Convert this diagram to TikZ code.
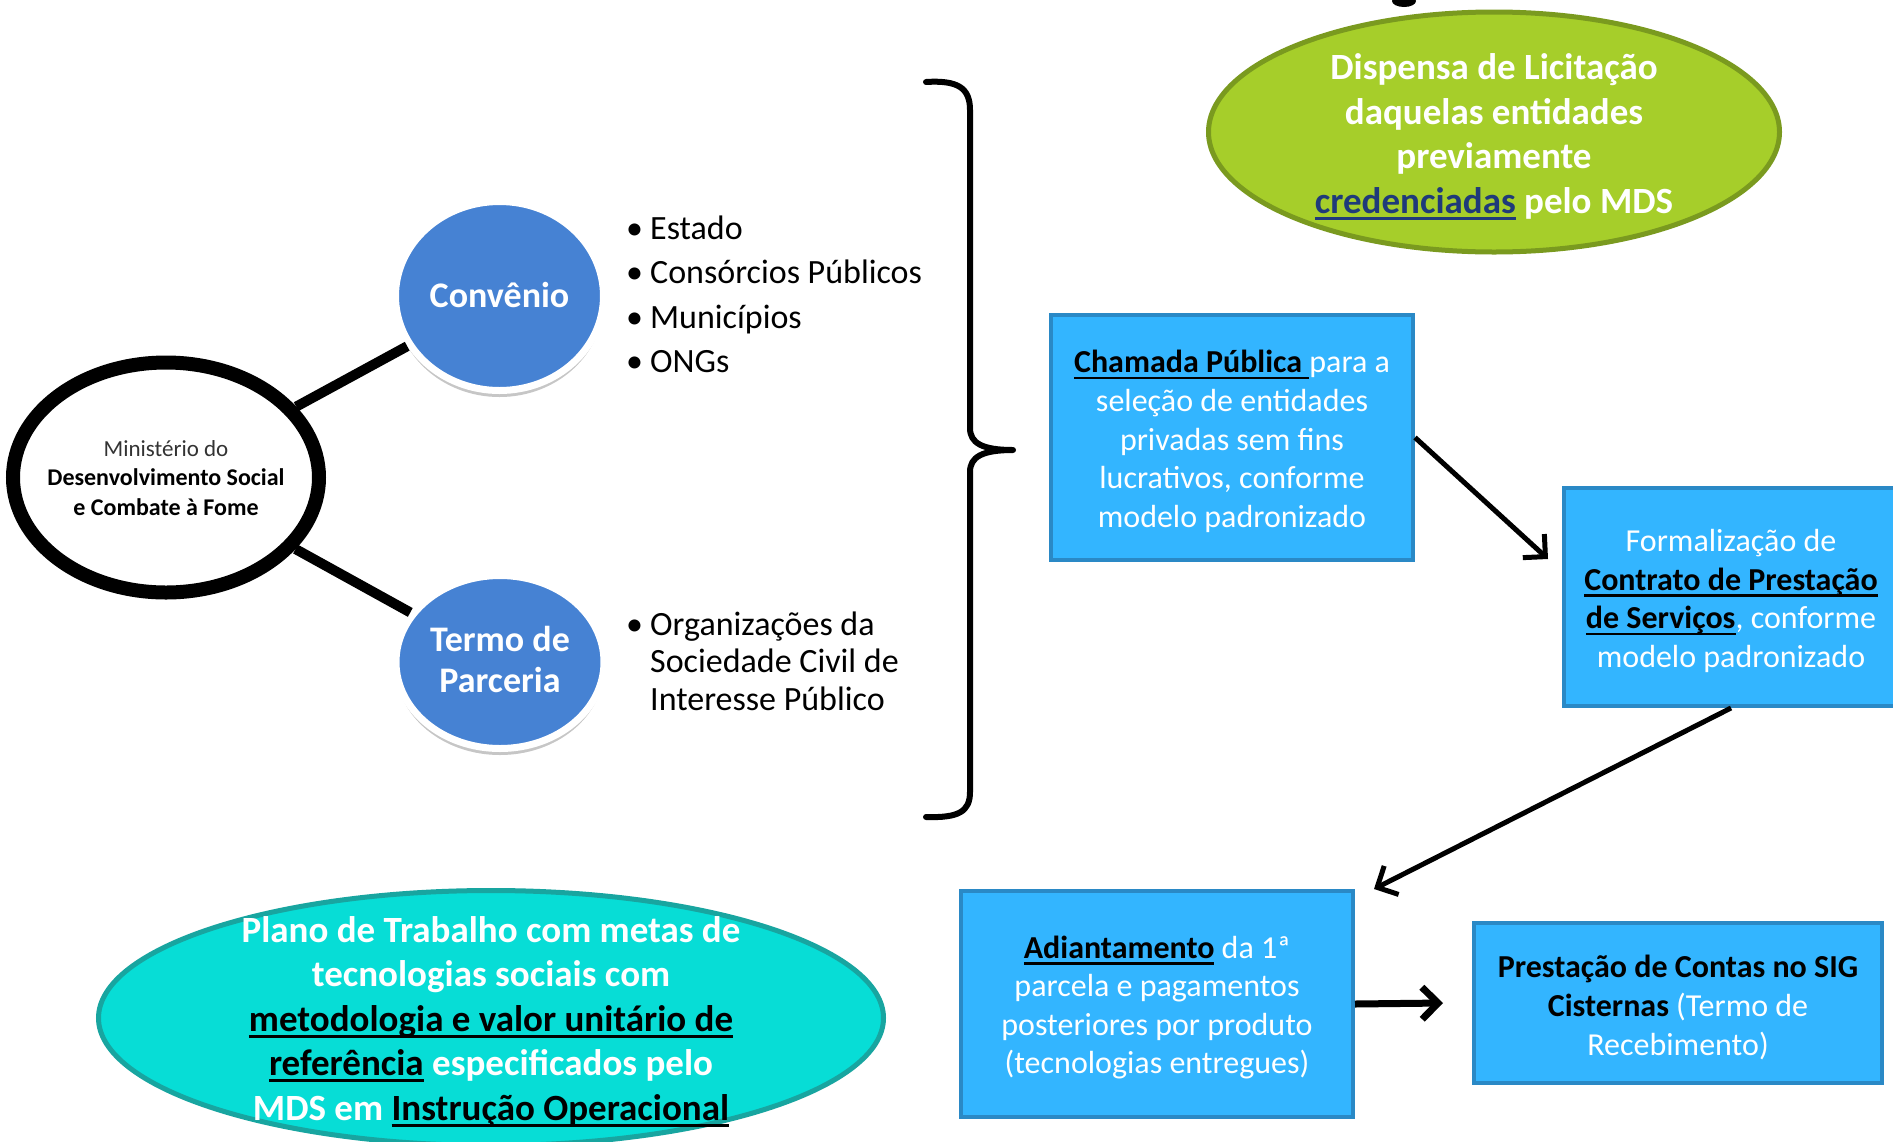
\documentclass[tikz,border=0pt]{standalone}
\usepackage{fontspec}
\setmainfont{Carlito}
\usetikzlibrary{shapes.geometric,arrows.meta}
\definecolor{boxfill}{HTML}{33B5FF}
\definecolor{boxline}{HTML}{2A89C6}
\definecolor{bubblefill}{HTML}{4682D3}
\definecolor{greenfill}{HTML}{A6CE2A}
\definecolor{greenline}{HTML}{7A9A1F}
\definecolor{cyanfill}{HTML}{07DDD6}
\definecolor{cyanline}{HTML}{18A5A0}
\definecolor{navytxt}{HTML}{1F3A7A}
\definecolor{mingray}{HTML}{333333}
\newcommand\myul[1]{\setbox0\hbox{#1}\rlap{\rule[-6.5pt]{\wd0}{2.8pt}}\box0}
\newcommand\ubk[1]{{\color{black}\bfseries\myul{#1}}}
\newcommand\bk[1]{{\color{black}\bfseries #1}}
\newcommand\bul{\makebox[24pt][l]{•}}
\tikzset{
  boxnode/.style={rectangle, draw=boxline, line width=4pt, fill=boxfill, inner sep=0pt},
  boxtext/.style={text=white, align=center, inner sep=0pt, font=\fontsize{32}{38.6}\selectfont},
  bubble/.style={ellipse, draw=white, line width=7pt, fill=bubblefill, inner sep=0pt},
  bubbletext/.style={text=white, align=center, inner sep=0pt, font=\bfseries\fontsize{36}{41}\selectfont},
  bigoval/.style={ellipse, line width=5pt, inner sep=0pt},
  ovaltext/.style={text=white, align=center, inner sep=0pt, font=\bfseries\fontsize{37}{44.5}\selectfont},
  arr/.style={line width=5pt, -{Straight Barb[length=16pt,width=32pt]}},
  link/.style={line width=10pt},
  listtext/.style={anchor=west, align=left, inner sep=0pt},
}
\begin{document}
\begin{tikzpicture}[x=1pt,y=-1pt]
\useasboundingbox (0,0) rectangle (1893,1141);
\clip (0,0) rectangle (1893,1141);
\fill[white] (0,0) rectangle (1893,1141);

% fragment of cut-off title
\fill[black] (1404,1) ellipse [x radius=12pt, y radius=6pt];

% ministry ellipse
\node[ellipse, draw=black, line width=14pt, fill=white, minimum width=306pt, minimum height=230pt, inner sep=0pt] (min) at (166,477.5) {};
\node[align=center, inner sep=0pt, font=\bfseries\fontsize{24}{29.5}\selectfont] (mintext) at (166,478)
  {{\mdseries\color{mingray}\fontsize{23}{29.5}\selectfont Ministério do}\\Desenvolvimento Social\\e Combate à Fome};

% shadows of bubbles
\foreach \o in {0.06,0.08,0.10}{
  \fill[black, opacity=\o] (499.5,302) ellipse [x radius=104pt, y radius=95pt];
  \fill[black, opacity=\o] (500,668) ellipse [x radius=104pt, y radius=87pt];
}

\node[bubble, minimum width=208pt, minimum height=189pt] (conv) at (499.5,296) {};
\node[bubbletext] (convtext) at (499.5,295) {Convênio};
\node[bubble, minimum width=208pt, minimum height=173pt] (termo) at (500,662) {};
\node[bubbletext] (termotext) at (500,659.5) {Termo de\\Parceria};
\draw[link] (min) -- (conv);
\draw[link] (min) -- (termo);

% lists
\node[listtext, font=\fontsize{34}{44.5}\selectfont] (list1) at (626,294.5)
  {\bul Estado\\\bul Consórcios Públicos\\\bul Municípios\\\bul ONGs};
\node[listtext, font=\fontsize{34}{37.5}\selectfont] (list2) at (626,661)
  {\bul Organizações da\\\hspace*{24pt}Sociedade Civil de\\\hspace*{24pt}Interesse Público};

% brace
\draw[line width=6pt, line cap=round, line join=round]
  (926,82) .. controls (958,80) and (970,88) .. (970,110) -- (970,428)
  .. controls (970,443) and (982,450) .. (1013,450)
  .. controls (982,450) and (970,457) .. (970,472) -- (970,792)
  .. controls (970,812) and (958,818) .. (926,817);

% green oval
\node[bigoval, draw=greenline, fill=greenfill, minimum width=571pt, minimum height=240pt] (disp) at (1494,132) {};
\node[ovaltext] (disptext) at (1494,137)
  {Dispensa de Licitação\\daquelas entidades\\previamente\\{\color{navytxt}\myul{credenciadas}} pelo MDS};

% cyan oval
\node[bigoval, draw=cyanline, fill=cyanfill, minimum width=785pt, minimum height=255pt] (plano) at (491,1018) {};
\node[ovaltext] (planotext) at (491,1021.5)
  {Plano de Trabalho com metas de\\tecnologias sociais com\\\ubk{metodologia e valor unitário de}\\\ubk{referência} especificados pelo\\MDS em \ubk{Instrução Operacional}};

% boxes
\node[boxnode, minimum width=362pt, minimum height=245pt] (cham) at (1232,437.5) {};
\node[boxtext] (chamtext) at (1232,441.5)
  {\ubk{Chamada Pública\ }para a\\seleção de entidades\\privadas sem fins\\lucrativos, conforme\\modelo padronizado};
\node[boxnode, minimum width=334pt, minimum height=218pt] (formal) at (1731,597) {};
\node[boxtext] (formaltext) at (1731,601)
  {Formalização de\\\ubk{Contrato de Prestação}\\\ubk{de Serviços}, conforme\\modelo padronizado};
\node[boxnode, minimum width=392pt, minimum height=226pt] (adiant) at (1157,1004) {};
\node[boxtext] (adianttext) at (1157,1007.5)
  {\ubk{Adiantamento} da 1ª\\parcela e pagamentos\\posteriores por produto\\(tecnologias entregues)};
\node[boxnode, minimum width=408pt, minimum height=160pt] (prest) at (1678,1003) {};
\node[boxtext] (presttext) at (1678,1007.5)
  {\bk{Prestação de Contas no SIG}\\\bk{Cisternas} (Termo de\\Recebimento)};

% arrows
\coordinate (a1) at (1548,559);
\coordinate (a2) at (1374,889);
\coordinate (a3) at (1443,1003);
\draw[arr] (cham.east) -- (a1);
\draw[arr] (formal.south) -- (a2);
\draw[arr, line width=7pt] (adiant.east) -- (a3);
\end{tikzpicture}
\end{document}
